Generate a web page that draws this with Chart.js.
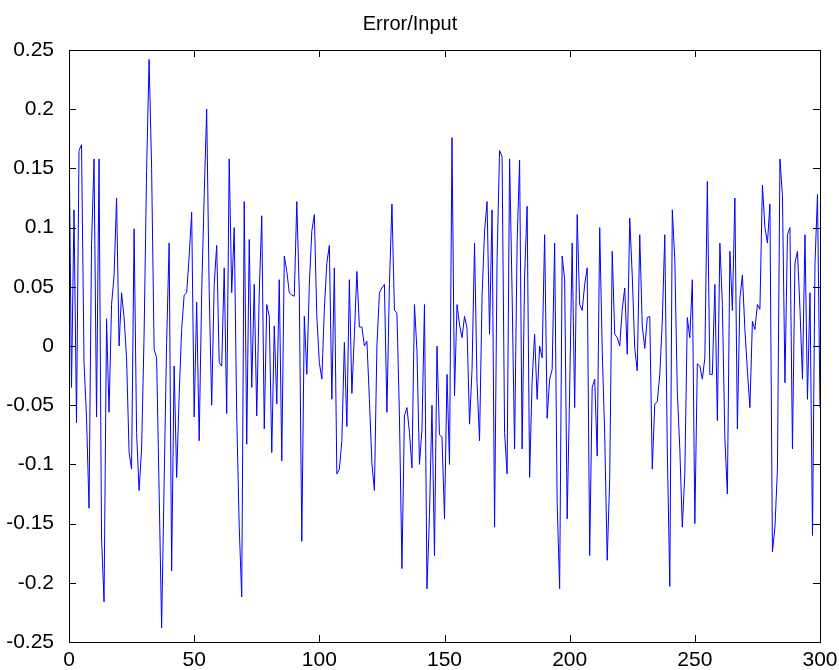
<!DOCTYPE html>
<html>
<head>
<meta charset="utf-8">
<script src="https://cdn.jsdelivr.net/npm/chart.js@4.4.1/dist/chart.umd.min.js"></script>
<style>
  html, body { margin: 0; padding: 0; background: #ffffff; }
  #wrap { width: 839px; height: 670px; position: relative; }
</style>
</head>
<body>
<div id="wrap"><canvas id="c" width="839" height="670"></canvas></div>
<script>
// ---- data ----
const chartTitle = 'Error/Input';
const xTickValues = [0, 50, 100, 150, 200, 250, 300];
const yTickValues = [-0.25, -0.2, -0.15, -0.1, -0.05, 0, 0.05, 0.1, 0.15, 0.2, 0.25];

const errorPart1 = [0.186, -0.035, 0.115, -0.065, 0.165, 0.17, -0.014, -0.06, -0.137, 0.085, 0.158, -0.06, 0.158, -0.162, -0.216, 0.023, -0.056, 0.035, 0.059, 0.125, 0.0, 0.045, 0.024, -0.01, -0.09, -0.104, 0.099, -0.073, -0.122, -0.087, 0.01, 0.148, 0.242, 0.15, -0.003];
const errorPart2 = [-0.01, -0.122, -0.238, -0.115, 0.003, 0.087, -0.19, -0.017, -0.111, -0.042, 0.014, 0.043, 0.045, 0.076, 0.113, -0.06, 0.037, -0.08, 0.045, 0.127, 0.2, 0.047, -0.05, 0.052, 0.085, -0.014, -0.017, 0.066, -0.057, 0.158, 0.045, 0.1, -0.059, -0.153, -0.212, 0.122, -0.083, 0.09];
const errorPart3 = [-0.035, 0.052, -0.059, 0.045, 0.11, -0.07, 0.035, 0.025, -0.09, 0.017, -0.049, 0.056, -0.097, 0.076, 0.063, 0.045, 0.043, 0.042, 0.122, 0.045, -0.165, 0.025, -0.024, 0.052, 0.097, 0.111, 0.025, -0.014, -0.028, 0.031, 0.07, 0.085, -0.045, 0.066, -0.108, -0.104, -0.08, 0.003];
const errorPart4 = [-0.068, 0.056, -0.04, 0.01, 0.063, 0.016, 0.016, 0.0, 0.004, -0.045, -0.099, -0.122, 0.0, 0.045, 0.049, 0.052, -0.056, 0.052, 0.12, 0.03, 0.028, -0.059, -0.188, -0.059, -0.052, -0.073, -0.103, 0.035, -0.004, -0.1, -0.07, 0.035, -0.205, -0.143, -0.05, -0.177, 0.0, -0.075];
const errorPart5 = [-0.077, -0.146, -0.024, -0.1, 0.176, -0.042, 0.035, 0.018, 0.007, 0.025, 0.015, -0.066, -0.02, 0.087, -0.031, -0.08, 0.042, 0.097, 0.122, 0.01, 0.115, -0.153, 0.073, 0.165, 0.16, -0.073, -0.108, 0.158, 0.045, -0.087, 0.087, 0.157, -0.087, 0.059, 0.118, -0.111, -0.03, 0.01];
const errorPart6 = [-0.045, 0.0, -0.01, 0.094, -0.061, -0.028, -0.02, 0.087, -0.132, -0.205, 0.076, 0.056, -0.146, -0.038, 0.087, -0.052, 0.111, 0.035, 0.03, 0.052, 0.066, -0.177, -0.035, -0.028, -0.093, 0.1, -0.003, -0.075, -0.181, -0.111, 0.08, 0.01, 0.007, 0.0, 0.031, 0.049, -0.007, 0.108];
const errorPart7 = [0.059, -0.002, -0.021, 0.094, 0.017, -0.002, 0.024, 0.025, -0.104, -0.049, -0.047, -0.024, 0.021, 0.094, -0.087, -0.203, 0.115, 0.073, -0.038, -0.087, -0.153, -0.108, 0.024, 0.007, 0.056, -0.15, -0.015, -0.017, -0.028, -0.01, 0.139, -0.024, -0.024, 0.052, -0.063, 0.087, 0.035, -0.078];
const errorPart8 = [-0.125, 0.08, 0.03, 0.125, -0.07, 0.04, 0.06, 0.014, -0.021, -0.052, 0.021, 0.014, 0.035, 0.031, 0.136, 0.1, 0.087, 0.12, -0.174, -0.153, -0.104, 0.158, 0.127, -0.031, 0.094, 0.1, -0.087, 0.07, 0.08, 0.031, -0.028, 0.094, -0.045, 0.045, -0.16, 0.07, 0.128, -0.052];

const errorValues = [].concat(errorPart1, errorPart2, errorPart3, errorPart4,
                              errorPart5, errorPart6, errorPart7, errorPart8);
const points = errorValues.map((v, i) => ({ x: i, y: v }));

const LABEL_FONT = "Arial, 'Liberation Sans', sans-serif";

function fmt(v) {
  const r = Math.round(v * 100) / 100;
  return r === 0 ? '0' : String(r);
}

// MATLAB-style box with inward tick marks, positioned by the chart's own scales
const matlabBox = {
  id: 'matlabBox',
  afterDatasetsDraw(chart) {
    const ctx = chart.ctx;
    const a = chart.chartArea;
    const sx = chart.scales.x, sy = chart.scales.y;
    const L = 7, W = 1;
    const left = Math.round(a.left), right = Math.round(a.right);
    const top = Math.round(a.top), bottom = Math.round(a.bottom);
    ctx.save();
    ctx.fillStyle = '#000000';
    // frame
    ctx.fillRect(left, top, right - left + W, W);
    ctx.fillRect(left, bottom, right - left + W, W);
    ctx.fillRect(left, top, W, bottom - top + W);
    ctx.fillRect(right, top, W, bottom - top + W);
    // x ticks (bottom and top, pointing inward)
    xTickValues.forEach(v => {
      const px = Math.round(sx.getPixelForValue(v));
      ctx.fillRect(px, bottom - L, W, L);
      ctx.fillRect(px, top, W, L);
    });
    // y ticks (left and right, pointing inward)
    yTickValues.forEach(v => {
      const py = Math.round(sy.getPixelForValue(v));
      ctx.fillRect(left, py, L, W);
      ctx.fillRect(right - L, py, L, W);
    });
    ctx.restore();
  }
};

new Chart(document.getElementById('c'), {
  type: 'line',
  data: {
    datasets: [{
      label: chartTitle,
      data: points,
      borderColor: '#0000ff',
      borderWidth: 1,
      pointRadius: 0,
      tension: 0,
      fill: false
    }]
  },
  options: {
    responsive: false,
    animation: false,
    events: [],
    layout: { padding: { top: 0, right: 19, bottom: 0, left: 0 } },
    plugins: {
      legend: { display: false },
      tooltip: { enabled: false },
      title: {
        display: true,
        text: chartTitle,
        color: '#000000',
        font: { family: LABEL_FONT, size: 20, weight: 'normal' },
        padding: { top: 12, bottom: 14 }
      }
    },
    scales: {
      x: {
        type: 'linear',
        min: 0, max: 300,
        grid: { display: false },
        border: { display: false },
        afterBuildTicks(s) { s.ticks = xTickValues.map(v => ({ value: v })); },
        afterFit(s) { s.height = 28; },
        ticks: {
          color: '#000000',
          font: { family: LABEL_FONT, size: 21 },
          padding: -2,
          maxRotation: 0,
          autoSkip: false,
          callback: v => String(v)
        }
      },
      y: {
        type: 'linear',
        min: -0.25, max: 0.25,
        grid: { display: false },
        border: { display: false },
        afterBuildTicks(s) { s.ticks = yTickValues.map(v => ({ value: v })); },
        afterFit(s) { s.width = 69; },
        ticks: {
          color: '#000000',
          font: { family: LABEL_FONT, size: 21 },
          padding: 7,
          autoSkip: false,
          callback: v => fmt(v)
        }
      }
    }
  },
  plugins: [matlabBox]
});
</script>
</body>
</html>
